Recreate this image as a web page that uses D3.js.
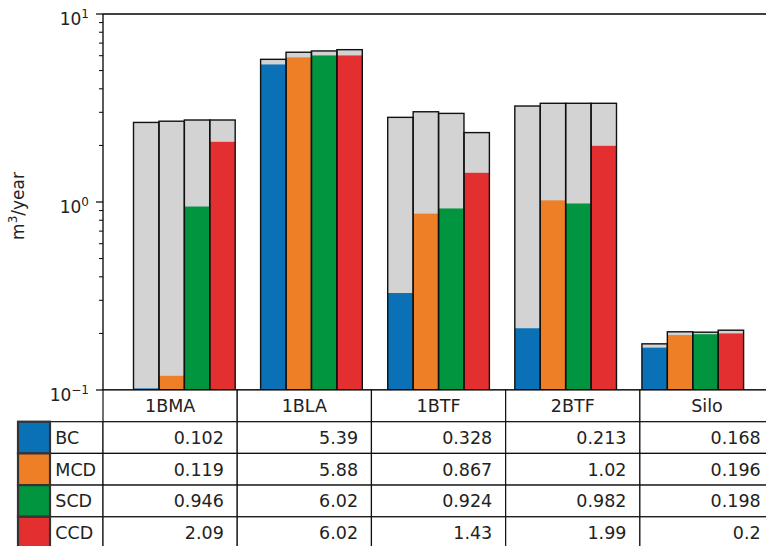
<!DOCTYPE html>
<html>
<head>
<meta charset="utf-8">
<script src="https://cdn.jsdelivr.net/npm/d3@7"></script>
<style>
  html, body { margin: 0; padding: 0; background: #fff; }
  svg { display: block; font-family: "DejaVu Sans", sans-serif; }
</style>
</head>
<body>
<svg id="chart" width="766" height="546"></svg>
<script>
// Waste categories and disposal scenarios
const categories = ["1BMA", "1BLA", "1BTF", "2BTF", "Silo"];
const seriesNames = ["BC", "MCD", "SCD", "CCD"];
const seriesColors = ["#0a71b7", "#ee7f26", "#01953f", "#e42f30"];

// Central estimates (also printed in the table)
const bcValues  = [0.102, 5.39, 0.328, 0.213, 0.168];
const mcdValues = [0.119, 5.88, 0.867, 1.02, 0.196];
const scdValues = [0.946, 6.02, 0.924, 0.982, 0.198];
const ccdValues = [2.09, 6.02, 1.43, 1.99, 0.2];

// Upper bounds (grey bars behind the coloured ones)
const bcUpper  = [2.65, 5.74, 2.82, 3.24, 0.176];
const mcdUpper = [2.69, 6.26, 3.02, 3.35, 0.204];
const scdUpper = [2.73, 6.36, 2.96, 3.35, 0.203];
const ccdUpper = [2.73, 6.46, 2.34, 3.35, 0.208];

const tableText = [
  ["0.102", "5.39", "0.328", "0.213", "0.168"],
  ["0.119", "5.88", "0.867", "1.02", "0.196"],
  ["0.946", "6.02", "0.924", "0.982", "0.198"],
  ["2.09", "6.02", "1.43", "1.99", "0.2"]
];

const yTicks = [0.1, 1, 10];
const yTickExp = ["\u22121", "0", "1"];

const seriesValues = [bcValues, mcdValues, scdValues, ccdValues];
const seriesUpper = [bcUpper, mcdUpper, scdUpper, ccdUpper];

const barWidth = 0.2;
const svg = d3.select("#chart");

const plotLeft = 103, plotTop = 14, plotBottom = 390;
const x = d3.scaleLinear().domain([-0.24, 5.04]).range([plotLeft, 774.1]);
const y = d3.scaleLog().domain([0.1, 10]).range([plotBottom, plotTop]);

// Bars: grey upper bound, coloured central value, outline around the whole bar
const bars = [];
seriesNames.forEach((name, j) => {
  categories.forEach((cat, i) => {
    bars.push({ i, j, value: seriesValues[j][i], upper: seriesUpper[j][i], color: seriesColors[j] });
  });
});

const barG = svg.append("g");
const barX = d => x(d.i + d.j * barWidth);
const barW = () => x(barWidth) - x(0);

barG.selectAll("rect.upper").data(bars).join("rect")
  .attr("class", "upper")
  .attr("x", barX).attr("width", barW)
  .attr("y", d => y(d.upper)).attr("height", d => y(0.1) - y(d.upper))
  .attr("fill", "#d3d3d3");

barG.selectAll("rect.value").data(bars).join("rect")
  .attr("class", "value")
  .attr("x", barX).attr("width", barW)
  .attr("y", d => y(d.value)).attr("height", d => y(0.1) - y(d.value))
  .attr("fill", d => d.color);

barG.selectAll("rect.outline").data(bars).join("rect")
  .attr("class", "outline")
  .attr("x", barX).attr("width", barW)
  .attr("y", d => y(Math.max(d.upper, d.value))).attr("height", d => y(0.1) - y(Math.max(d.upper, d.value)))
  .attr("fill", "none").attr("stroke", "#111").attr("stroke-width", 1.4);

// Axes frame
const axisG = svg.append("g");
axisG.append("line").attr("x1", plotLeft).attr("x2", 780).attr("y1", plotTop).attr("y2", plotTop)
  .attr("stroke", "#000").attr("stroke-width", 1.3);
axisG.append("line").attr("x1", plotLeft).attr("x2", plotLeft).attr("y1", plotTop).attr("y2", plotBottom)
  .attr("stroke", "#000").attr("stroke-width", 1.3);
axisG.append("line").attr("x1", plotLeft).attr("x2", 780).attr("y1", plotBottom).attr("y2", plotBottom)
  .attr("stroke", "#000").attr("stroke-width", 1.3);

// Y axis ticks (log scale, minor ticks at 2..9)
const minorTicks = [];
[0.1, 1].forEach(base => { for (let k = 2; k <= 9; k++) minorTicks.push(base * k); });
axisG.selectAll("line.minor").data(minorTicks).join("line")
  .attr("x1", plotLeft - 4).attr("x2", plotLeft)
  .attr("y1", d => y(d)).attr("y2", d => y(d))
  .attr("stroke", "#000").attr("stroke-width", 1);
axisG.selectAll("line.major").data(yTicks).join("line")
  .attr("x1", plotLeft - 7).attr("x2", plotLeft)
  .attr("y1", d => y(d)).attr("y2", d => y(d))
  .attr("stroke", "#000").attr("stroke-width", 1.2);

const tickLabels = axisG.selectAll("text.tick").data(yTicks).join("text")
  .attr("x", 89).attr("y", d => y(d) + 11)
  .attr("text-anchor", "end")
  .attr("font-size", 17).attr("fill", "#222");
tickLabels.append("tspan").text("10");
tickLabels.append("tspan").attr("dy", -7).attr("font-size", 12).text((d, i) => yTickExp[i]);

// Y axis label
const yLabel = svg.append("text")
  .attr("transform", "translate(24,206) rotate(-90)")
  .attr("text-anchor", "middle").attr("font-size", 17).attr("fill", "#222");
yLabel.append("tspan").text("m");
yLabel.append("tspan").attr("dy", -7).attr("font-size", 12).text("3");
yLabel.append("tspan").attr("dy", 7).text("/year");

// Table below the axes
const tableG = svg.append("g");
const colW = (x.range()[1] - plotLeft) / categories.length;
const rowH = 31.7;
const fontSize = 17.5;
const swatchLeft = 18, labelLeft = 50;

// Header row
categories.forEach((cat, i) => {
  const cx = plotLeft + i * colW;
  tableG.append("rect").attr("x", cx).attr("y", plotBottom).attr("width", colW).attr("height", rowH)
    .attr("fill", "#fff").attr("stroke", "#111").attr("stroke-width", 1.2);
  tableG.append("text").attr("x", cx + colW / 2).attr("y", plotBottom + rowH / 2 + fontSize * 0.36)
    .attr("text-anchor", "middle").attr("font-size", fontSize).attr("fill", "#222").text(cat);
});

// Data rows
seriesNames.forEach((name, r) => {
  const ry = plotBottom + (r + 1) * rowH;
  tableG.append("rect").attr("x", labelLeft).attr("y", ry).attr("width", plotLeft - labelLeft).attr("height", rowH)
    .attr("fill", "#fff").attr("stroke", "#111").attr("stroke-width", 1.2);
  tableG.append("text").attr("x", labelLeft + (plotLeft - labelLeft) * 0.1).attr("y", ry + rowH / 2 + fontSize * 0.36)
    .attr("font-size", fontSize).attr("fill", "#222").text(name);
  categories.forEach((cat, i) => {
    const cx = plotLeft + i * colW;
    tableG.append("rect").attr("x", cx).attr("y", ry).attr("width", colW).attr("height", rowH)
      .attr("fill", "#fff").attr("stroke", "#111").attr("stroke-width", 1.2);
    tableG.append("text").attr("x", cx + colW * 0.9).attr("y", ry + rowH / 2 + fontSize * 0.36)
      .attr("text-anchor", "end").attr("font-size", fontSize).attr("fill", "#222").text(tableText[r][i]);
  });
});

// Colour swatches drawn last so their darker borders sit on top
seriesNames.forEach((name, r) => {
  const ry = plotBottom + (r + 1) * rowH;
  tableG.append("rect").attr("x", swatchLeft).attr("y", ry).attr("width", labelLeft - swatchLeft).attr("height", rowH)
    .attr("fill", seriesColors[r]).attr("stroke", "#333").attr("stroke-width", 2.2);
});
</script>
</body>
</html>
